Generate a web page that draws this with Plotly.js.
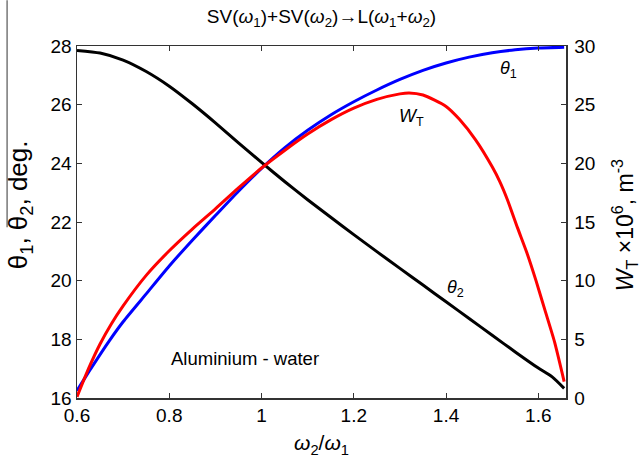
<!DOCTYPE html>
<html>
<head>
<meta charset="utf-8">
<script src="https://cdn.plot.ly/plotly-3.0.1.min.js"></script>
<style>html,body{margin:0;padding:0;background:#fff;}#chart{width:641px;height:466px;}</style>
</head>
<body>
<div id="chart"></div>
<script>
// ratio w2/w1 and angles (deg) / W_T (x10^6 m^-3)
const theta1X = [0.6, 0.63, 0.67, 0.7, 0.75, 0.8, 0.85, 0.9, 0.95, 1.0, 1.05, 1.1, 1.15, 1.2, 1.25, 1.3, 1.35, 1.4, 1.45, 1.5, 1.55, 1.6, 1.656];
const theta1Y = [16.25, 17.0, 17.95, 18.6, 19.55, 20.5, 21.38, 22.22, 23.05, 23.83, 24.53, 25.13, 25.65, 26.1, 26.5, 26.86, 27.17, 27.42, 27.62, 27.77, 27.87, 27.93, 27.96];

const theta2X = [0.6, 0.65, 0.7, 0.75, 0.8, 0.85, 0.9, 0.95, 1.0, 1.05, 1.1, 1.15, 1.2, 1.25, 1.3, 1.35, 1.4, 1.45, 1.5, 1.55, 1.6, 1.63, 1.656];
const theta2Y = [27.85, 27.76, 27.52, 27.13, 26.63, 26.03, 25.38, 24.7, 24.03, 23.38, 22.76, 22.16, 21.57, 20.99, 20.42, 19.85, 19.28, 18.71, 18.14, 17.57, 17.02, 16.72, 16.33];

const wtX = [0.6, 0.625, 0.65, 0.675, 0.7, 0.75, 0.8, 0.85, 0.9, 0.95, 1.0, 1.05, 1.1, 1.15, 1.2, 1.25, 1.3, 1.32, 1.35, 1.4, 1.429, 1.464, 1.5, 1.517, 1.533, 1.555, 1.575, 1.595, 1.615, 1.635, 1.656];
const wtY = [0.1, 2.5, 4.6, 6.35, 7.85, 10.45, 12.55, 14.4, 16.12, 17.9, 19.6, 21.1, 22.5, 23.7, 24.7, 25.45, 25.92, 26.0, 25.82, 24.85, 23.75, 22.0, 19.7, 18.4, 16.9, 14.5, 12.4, 10.0, 7.4, 4.8, 1.4];

const xTicks = [0.6, 0.8, 1, 1.2, 1.4, 1.6];
const xTickText = ['0.6', '0.8', '1', '1.2', '1.4', '1.6'];
const yTicks = [16, 18, 20, 22, 24, 26, 28];
const y2Ticks = [0, 5, 10, 15, 20, 25, 30];

const FONT = 'Liberation Sans, Arial, sans-serif';

const traces = [
  {x: wtX, y: wtY, yaxis: 'y2', mode: 'lines', line: {color: '#ff0000', width: 3, shape: 'spline', smoothing: 0.6}, hoverinfo: 'skip'},
  {x: theta1X, y: theta1Y, mode: 'lines', line: {color: '#0000ff', width: 3, shape: 'spline', smoothing: 0.6}, hoverinfo: 'skip'},
  {x: theta2X, y: theta2Y, mode: 'lines', line: {color: '#000000', width: 3, shape: 'spline', smoothing: 0.6}, hoverinfo: 'skip'}
];

const axisCommon = {
  showgrid: false, zeroline: false, showline: true, linecolor: '#333', linewidth: 1.5,
  ticks: 'inside', ticklen: 5, tickcolor: '#333', tickwidth: 1,
  tickfont: {family: FONT, size: 19, color: '#000'}
};

const layout = {
  width: 641, height: 466,
  margin: {l: 77, r: 75, t: 46, b: 68, pad: 0},
  paper_bgcolor: '#fff', plot_bgcolor: '#fff',
  showlegend: false,
  font: {family: FONT, color: '#000'},
  title: {text: 'SV(<i>ω</i><sub>1</sub>)+SV(<i>ω</i><sub>2</sub>)→L(<i>ω</i><sub>1</sub>+<i>ω</i><sub>2</sub>)',
          font: {family: FONT, size: 19, color: '#000'}, x: 0.5, xref: 'paper', y: 0.965, yref: 'container', yanchor: 'middle'},
  xaxis: Object.assign({}, axisCommon, {range: [0.6, 1.66], tickvals: xTicks, ticktext: xTickText, mirror: 'ticks',
    title: {text: '<i>ω</i><sub>2</sub>/<i>ω</i><sub>1</sub>', font: {family: FONT, size: 21, color: '#000'}, standoff: 10}}),
  yaxis: Object.assign({}, axisCommon, {range: [16, 28], tickvals: yTicks}),
  yaxis2: Object.assign({}, axisCommon, {range: [0, 30], tickvals: y2Ticks, overlaying: 'y', side: 'right', ticklabelstandoff: 3}),
  annotations: [
    {xref: 'paper', yref: 'paper', x: -0.117, y: 0.55, text: 'θ<sub>1</sub>, θ<sub>2</sub>, deg.', textangle: -90, showarrow: false,
     font: {family: FONT, size: 26, color: '#000'}, xanchor: 'center', yanchor: 'middle'},
    {xref: 'paper', yref: 'paper', x: 1.118, y: 0.49, text: '<i>W</i><sub>T</sub> ×10<sup>6</sup>, m<sup>-3</sup>', textangle: -90, showarrow: false,
     font: {family: FONT, size: 23, color: '#000'}, xanchor: 'center', yanchor: 'middle'},
    {x: 1.535, y: 27.2, text: '<i>θ</i><sub>1</sub>', showarrow: false, font: {family: FONT, size: 18, color: '#000'}},
    {x: 1.325, y: 25.55, text: '<i>W</i><sub>T</sub>', showarrow: false, font: {family: FONT, size: 18, color: '#000'}},
    {x: 1.42, y: 19.72, text: '<i>θ</i><sub>2</sub>', showarrow: false, font: {family: FONT, size: 18, color: '#000'}},
    {x: 0.964, y: 17.36, text: 'Aluminium - water', showarrow: false, font: {family: FONT, size: 18.5, color: '#000'}}
  ],
  shapes: [
    {type: 'line', xref: 'paper', yref: 'paper', x0: -0.143, x1: -0.143, y0: 1.13, y1: 0.485, line: {color: '#333', width: 1}}
  ]
};

Plotly.newPlot('chart', traces, layout, {staticPlot: true, displayModeBar: false});
</script>
</body>
</html>
